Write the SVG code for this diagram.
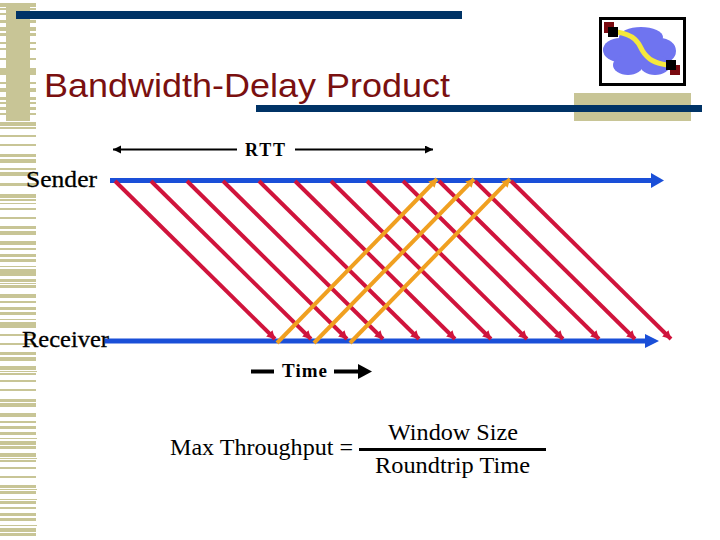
<svg xmlns="http://www.w3.org/2000/svg" width="720" height="540" viewBox="0 0 720 540">
<defs>
<style>
.serif{font-family:"Liberation Serif","Times New Roman",serif;fill:#000}
.label{stroke:#000;stroke-width:.3}
.red{stroke:#d0143c;stroke-width:4;fill:none}
.orange{stroke:#f0a020;stroke-width:4;fill:none}
.blue{stroke:#1a4fd8;stroke-width:5;fill:none}
.blk{stroke:#000;fill:none}
</style>
<marker id="redHead" markerUnits="userSpaceOnUse" markerWidth="10" markerHeight="10" refX="8" refY="4.500" orient="auto"><path d="M0 0L8 4.500L0 9Z" fill="#d0143c"/></marker>
<marker id="orHead" markerUnits="userSpaceOnUse" markerWidth="10" markerHeight="10" refX="8" refY="4.500" orient="auto"><path d="M0 0L8 4.500L0 9Z" fill="#f0a020"/></marker>
<marker id="blackHead" markerUnits="userSpaceOnUse" markerWidth="9" markerHeight="9" refX="8" refY="4" orient="auto"><path d="M0 0L8 4L0 8Z" fill="#000"/></marker>
</defs>
<rect width="720" height="540" fill="#fff"/>
<g id="decor">
<g fill="#c8c596">
<path d="M0 3h36v4H0zM0 8h36v2H0zM0 13h36v2H0zM0 20h36v3H0zM0 27h36v4H0zM0 33h36v3H0zM0 42h36v2H0zM0 48h36v2H0zM0 58h36v2H0zM0 68h36v7H0zM0 82h36v2H0zM0 88h36v4H0zM0 97h36v3H0zM0 102h36v2H0zM0 107h36v3H0zM0 113h36v2H0z"/>
<path d="M0 122h36v4H0zM0 127h36v2H0zM0 135h36v2H0zM0 144h36v2H0zM0 154h36v3H0zM0 159h36v4H0zM0 168h36v2H0zM0 172h36v4H0zM0 183h36v3H0zM0 194h36v4H0zM0 199h36v2H0zM0 203h36v1H0zM0 208h36v2H0zM0 217h36v2H0zM0 226h36v3H0zM0 231h36v4H0zM0 241h36v4H0zM0 248h36v2H0zM0 254h36v3H0zM0 259h36v3H0zM0 266h36v1H0zM0 269h36v7H0zM0 279h36v3H0zM0 283h36v1H0zM0 285h36v3H0zM0 294h36v4H0zM0 301h36v2H0zM0 307h36v3H0zM0 312h36v3H0zM0 319h36v1H0zM0 322h36v6H0zM0 334h36v2H0zM0 343h36v2H0zM0 352h36v3H0zM0 357h36v3H0z"/>
<path d="M0 360h36v1H0zM0 366h36v4H0zM0 371h37v1H0zM0 373h36v2H0zM0 380h36v2H0zM0 389h36v2H0zM0 399h36v3H0zM0 403h36v4H0zM0 413h36v4H0zM0 421h36v2H0zM0 426h36v3H0zM0 432h36v3H0zM0 438h37v1H0zM0 441h36v4H0zM0 446h36v3H0zM0 453h36v4H0zM0 458h37v1H0zM0 460h36v2H0zM0 467h36v2H0zM0 476h36v2H0zM0 485h36v3H0zM0 489h37v1H0zM0 491h36v3H0zM0 499h37v1H0zM0 501h36v3H0zM0 507h36v2H0zM0 513h36v3H0zM0 518h36v3H0zM0 525h37v1H0zM0 528h36v4H0zM0 533h36v3H0z"/>
<rect x="6" y="3" width="24" height="118"/>
<rect x="574" y="93" width="117" height="28"/>
</g>
<rect x="16" y="11" width="446" height="8" fill="#003366"/>
<rect x="256" y="105" width="446" height="7" fill="#003366"/>
</g>
<g id="logo">
<rect x="600.500" y="18.500" width="84" height="66" fill="#fff" stroke="#000" stroke-width="3"/>
<g fill="#6f74f0">
<ellipse cx="641" cy="37" rx="22" ry="10"/>
<ellipse cx="620" cy="50" rx="17" ry="12"/>
<ellipse cx="660" cy="51" rx="16" ry="13"/>
<ellipse cx="628" cy="65" rx="15" ry="10"/>
<ellipse cx="655" cy="65" rx="15" ry="10"/>
<rect x="622" y="35" width="38" height="34"/>
</g>
<rect x="604" y="22" width="10" height="11" fill="#7a0a10"/>
<rect x="670" y="65" width="10" height="10" fill="#7a0a10"/>
<path d="M617 32C636 35 639 44 642 50C648 60 655 63 667 65" fill="none" stroke="#f5e83c" stroke-width="5"/>
<rect x="608" y="27" width="10" height="10" fill="#000"/>
<rect x="666" y="60" width="10" height="10" fill="#000"/>
</g>
<g id="title"><text x="44" y="97" font-family="Liberation Sans, Arial, sans-serif" font-size="33" fill="#7a1010" textLength="406" lengthAdjust="spacingAndGlyphs">Bandwidth-Delay Product</text></g>
<g id="connectors">
<path class="blue" d="M110 180.500H652"/><path d="M651 173L664 180.500L651 188Z" fill="#1a4fd8"/>
<path class="blue" d="M105 341H646"/><path d="M645 334L659 341L645 348Z" fill="#1a4fd8"/>
<path class="red" marker-end="url(#redHead)" d="M115 181L275 339"/>
<path class="red" marker-end="url(#redHead)" d="M151 181L311 339"/>
<path class="red" marker-end="url(#redHead)" d="M187 181L347 339"/>
<path class="red" marker-end="url(#redHead)" d="M223 181L383 339"/>
<path class="red" marker-end="url(#redHead)" d="M259 181L419 339"/>
<path class="red" marker-end="url(#redHead)" d="M295 181L455 339"/>
<path class="red" marker-end="url(#redHead)" d="M331 181L491 339"/>
<path class="red" marker-end="url(#redHead)" d="M367 181L527 339"/>
<path class="red" marker-end="url(#redHead)" d="M403 181L563 339"/>
<path class="red" marker-end="url(#redHead)" d="M439 181L599 339"/>
<path class="red" marker-end="url(#redHead)" d="M475 181L635 339"/>
<path class="red" marker-end="url(#redHead)" d="M511 181L671 339"/>
<path class="orange" marker-end="url(#orHead)" d="M277 343L437 179"/>
<path class="orange" marker-end="url(#orHead)" d="M314 343L474 179"/>
<path class="orange" marker-end="url(#orHead)" d="M350 343L510 179"/>
<path class="blk" stroke-width="2" marker-end="url(#blackHead)" d="M237 149.500H113"/>
<path class="blk" stroke-width="2" marker-end="url(#blackHead)" d="M295 149.500H433"/>
<path class="blk" stroke-width="4" d="M251 371.500H274M334 371.500H361"/>
<path d="M358 364L372 371.500L358 379Z" fill="#000"/>
<path class="blk" stroke-width="3" d="M359 449.500H546"/>
</g>
<g id="sender"><text class="serif label" x="26" y="187" font-size="24" textLength="71" lengthAdjust="spacingAndGlyphs">Sender</text></g>
<g id="receiver"><text class="serif label" x="22" y="347" font-size="24" textLength="87" lengthAdjust="spacingAndGlyphs">Receiver</text></g>
<g id="rtt"><text class="serif" x="245" y="156" font-size="18" font-weight="bold" textLength="40">RTT</text></g>
<g id="time"><text class="serif" x="282" y="377" font-size="19" font-weight="bold" textLength="45">Time</text></g>
<g id="formula">
<text class="serif" x="170" y="455" font-size="24" textLength="183" lengthAdjust="spacingAndGlyphs">Max Throughput =</text>
<text class="serif" x="388" y="440" font-size="24" textLength="130" lengthAdjust="spacingAndGlyphs">Window Size</text>
<text class="serif" x="375" y="473" font-size="24" textLength="155" lengthAdjust="spacingAndGlyphs">Roundtrip Time</text>
</g>
</svg>
